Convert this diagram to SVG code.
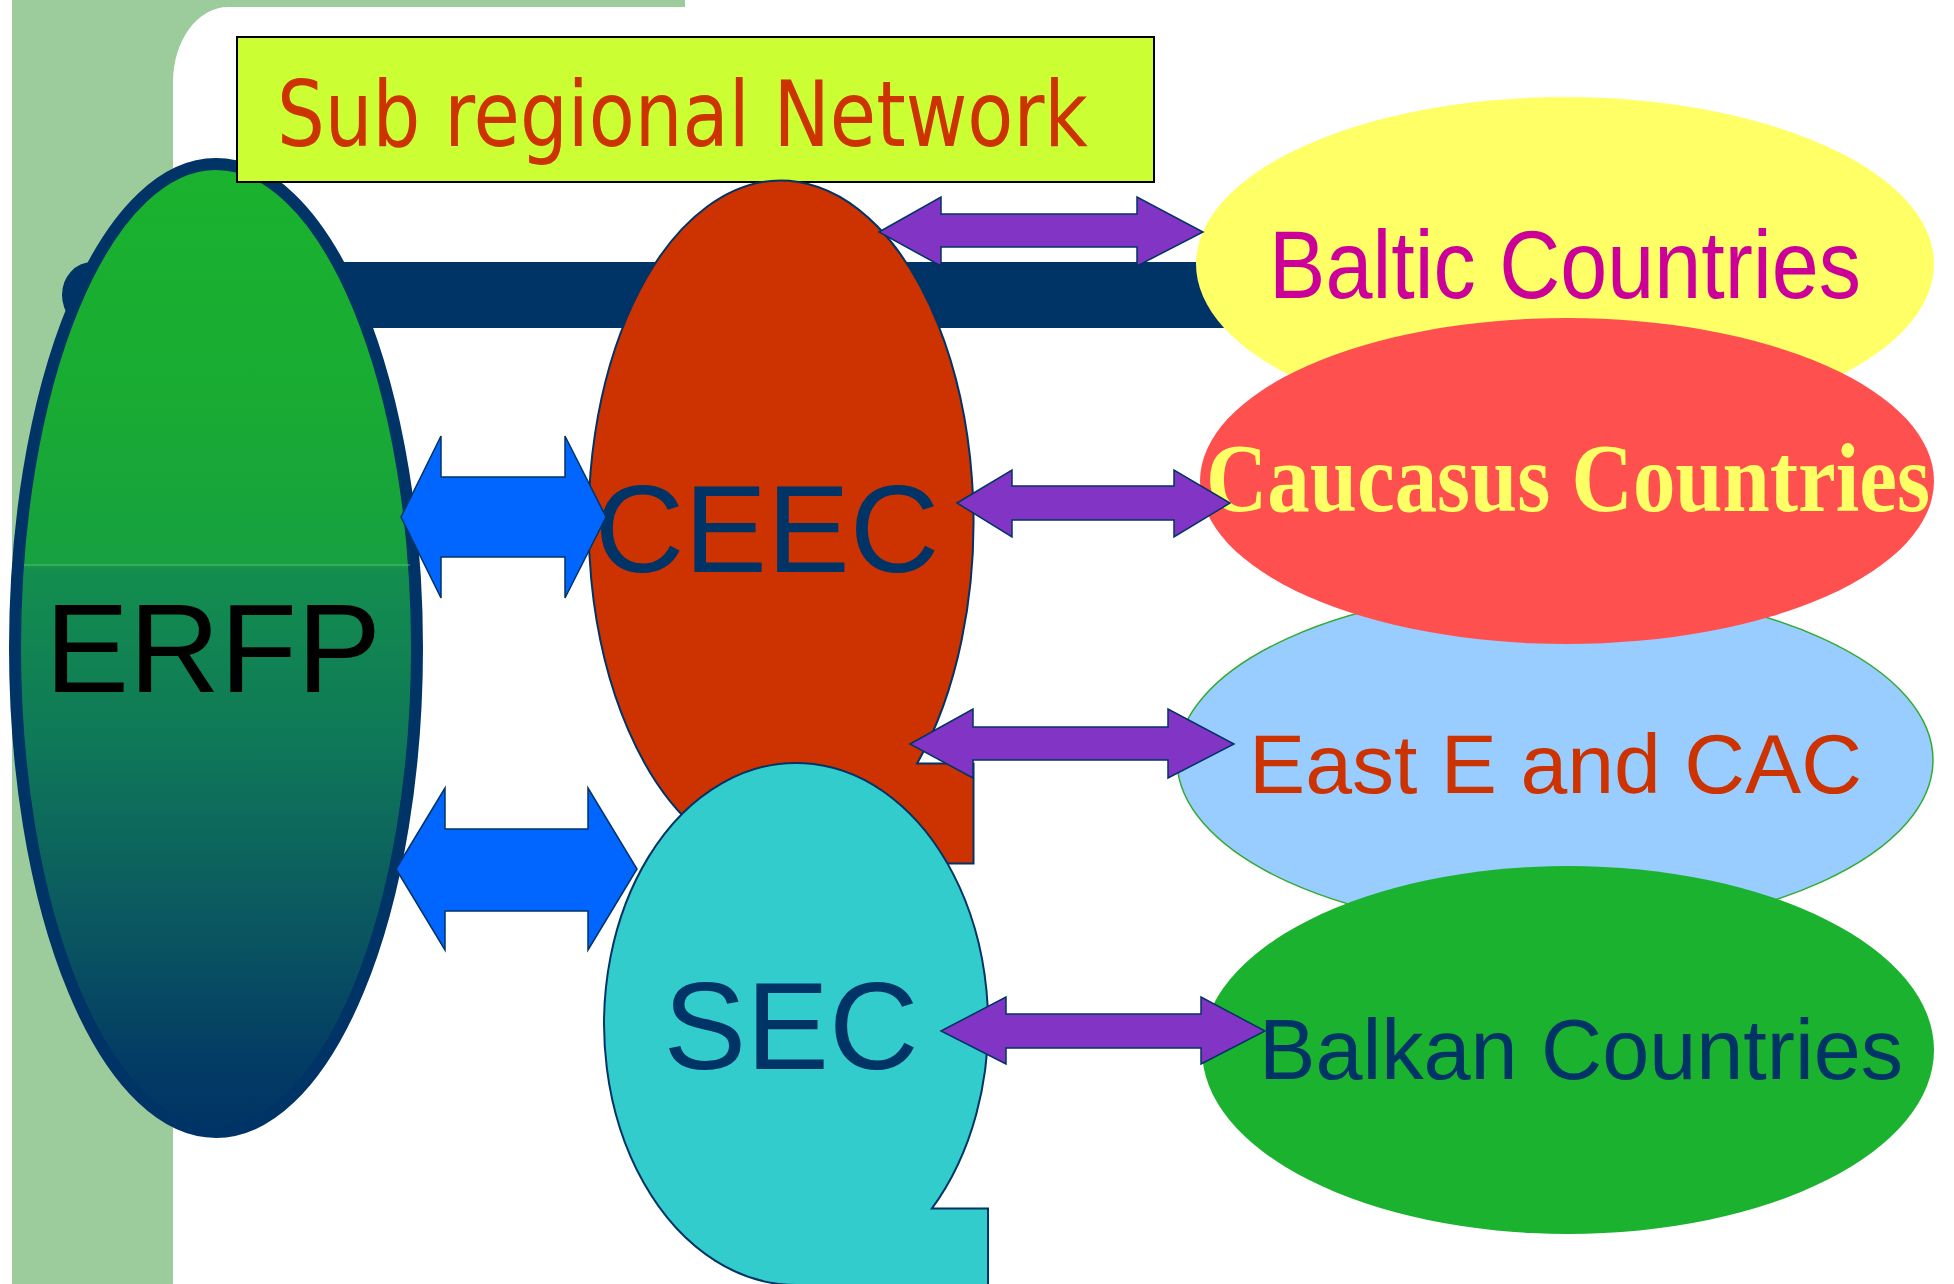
<svg xmlns="http://www.w3.org/2000/svg" width="1954" height="1284" viewBox="0 0 1954 1284">
<defs>
<style>
.sans{font-family:"Liberation Sans",Arial,sans-serif}
.bluearrow{fill:#0066ff;stroke:#003366;stroke-width:1.5}
.purplearrow{fill:#8235c4;stroke:#003366;stroke-width:1.5}
.thin{stroke:#003366;stroke-width:2}
</style>
<linearGradient id="erfpGrad" gradientUnits="userSpaceOnUse" x1="0" y1="160" x2="0" y2="1134">
<stop offset="0" stop-color="#1ab22e"/>
<stop offset="0.25" stop-color="#19ab33"/>
<stop offset="0.415" stop-color="#16a040"/>
<stop offset="0.42" stop-color="#138e4e"/>
<stop offset="0.6" stop-color="#0f7858"/>
<stop offset="0.8" stop-color="#0a5461"/>
<stop offset="0.92" stop-color="#033d64"/>
<stop offset="1" stop-color="#003366"/>
</linearGradient>
</defs>
<rect width="1954" height="1284" fill="#ffffff"/>
<path d="M12,0 H685 V7 H228 A55,75 0 0 0 173,82 V1284 H12 Z" fill="#9ccc9c"/>
<g id="connectors">
<path d="M92,262 H1300 V328 H92 A30,33 0 0 1 92,262 Z" fill="#003366"/>
</g>
<g id="erfp">
<ellipse cx="216" cy="648" rx="201" ry="484" fill="url(#erfpGrad)" stroke="#003366" stroke-width="12"/>
<line x1="24" y1="565" x2="410" y2="565" stroke="#6cc08a" stroke-width="1" opacity="0.8"/>
<text class="sans" x="213" y="692" font-size="126" text-anchor="middle" fill="#000000">ERFP</text>
</g>
<g id="title">
<rect x="237" y="37" width="917" height="145" fill="#ccff33" stroke="#000000" stroke-width="2"/>
<text x="277" y="146" font-family="DejaVu Sans, Verdana, sans-serif" font-size="90" fill="#cc3300" textLength="811" lengthAdjust="spacingAndGlyphs">Sub regional Network</text>
</g>
<g id="ceec">
<path class="thin" d="M781,863.5 A192.5,341.5 0 1 1 917.1,763.5 L973.5,763.5 L973.5,863.5 Z" fill="#cc3300"/>
<text class="sans" x="767" y="572" font-size="124" text-anchor="middle" fill="#003366">CEEC</text>
</g>
<g id="sec">
<path class="thin" d="M796,1285 A192,261 0 1 1 931.8,1208.6 L988,1208.6 L988,1285 Z" fill="#33cccc"/>
<text class="sans" x="791" y="1069" font-size="124" text-anchor="middle" fill="#003366">SEC</text>
</g>
<g id="baltic">
<ellipse cx="1565" cy="264" rx="369" ry="167" fill="#ffff66"/>
<text class="sans" x="1269" y="298" font-size="97" fill="#cc0099" textLength="592" lengthAdjust="spacingAndGlyphs">Baltic Countries</text>
</g>
<g id="easte">
<ellipse cx="1555" cy="760" rx="378" ry="172" fill="#99ccff" stroke="#33aa33" stroke-width="1.5"/>
<text class="sans" x="1249" y="793" font-size="84" fill="#cc3300" textLength="613" lengthAdjust="spacingAndGlyphs">East E and CAC</text>
</g>
<g id="caucasus">
<ellipse cx="1567" cy="481" rx="367" ry="163" fill="#ff5050"/>
<text x="1206" y="511" font-family="Liberation Serif, Times New Roman, serif" font-weight="bold" font-size="98" fill="#ffff66" textLength="724" lengthAdjust="spacingAndGlyphs">Caucasus Countries</text>
</g>
<g id="balkan">
<ellipse cx="1568" cy="1050" rx="366" ry="184" fill="#1ab22e"/>
<text class="sans" x="1259" y="1079" font-size="85" fill="#003366" textLength="644" lengthAdjust="spacingAndGlyphs">Balkan Countries</text>
</g>
<g id="arrows">
<polygon class="bluearrow" points="401,517 441,436 441,477 565,477 565,436 606,517 565,598 565,557 441,557 441,598"/>
<polygon class="bluearrow" points="396,869 445,788 445,829 588,829 588,788 637,869 588,950 588,911 445,911 445,950"/>
<polygon class="purplearrow" points="879,232 941,197 941,214 1137,214 1137,197 1203,232 1137,266 1137,247 941,247 941,266"/>
<polygon class="purplearrow" points="957,503 1012,470 1012,486 1174,486 1174,470 1230,503 1174,537 1174,520 1012,520 1012,537"/>
<polygon class="purplearrow" points="910,744 973,709 973,727 1168,727 1168,709 1234,744 1168,778 1168,760 973,760 973,778"/>
<polygon class="purplearrow" points="941,1031 1006,997 1006,1014 1201,1014 1201,997 1265,1031 1201,1064 1201,1048 1006,1048 1006,1064"/>
</g>
</svg>
